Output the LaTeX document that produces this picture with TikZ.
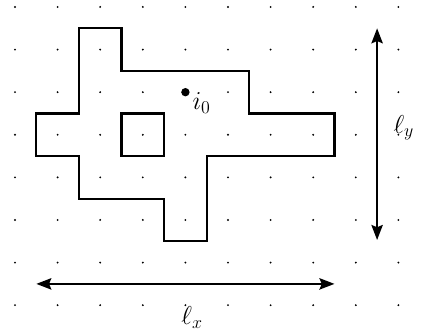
\documentclass[tikz,border=0pt]{standalone}
\usetikzlibrary{arrows.meta}
\begin{document}
\begin{tikzpicture}[x=1cm,y=1cm,
  griddot/.style={fill=black,draw=none},
  bigdot/.style={circle,fill=black,inner sep=0pt,minimum size=5.6pt},
  outline/.style={line width=1.5pt,line join=miter},
  measure/.style={line width=1.6pt,{Stealth[length=10pt,width=7.5pt,inset=1.5pt]}-{Stealth[length=10pt,width=7.5pt,inset=1.5pt]}},
  lbl/.style={inner sep=0pt,anchor=base west,font=\LARGE}]
\useasboundingbox (-0.352,0.164) rectangle (9.648,-7.723);
% dot grid
\foreach \i in {0,...,9}{
  \foreach \j in {0,...,7}{
    \fill[griddot] (\i,-\j) circle (0.7pt);
  }
}
% lattice region
\draw[outline] (1.5,-0.5) -- (2.5,-0.5) -- (2.5,-1.5) -- (5.5,-1.5) -- (5.5,-2.5)
  -- (7.5,-2.5) -- (7.5,-3.5) -- (4.5,-3.5) -- (4.5,-5.5) -- (3.5,-5.5)
  -- (3.5,-4.5) -- (1.5,-4.5) -- (1.5,-3.5) -- (0.5,-3.5) -- (0.5,-2.5)
  -- (1.5,-2.5) -- cycle;
\draw[outline] (2.5,-2.5) rectangle (3.5,-3.5);
% marked site
\node[bigdot] (i0) at (4,-2) {};
\node[lbl] (i0lbl) at (4.16,-2.4) {$i_0$};
% extents
\coordinate (ytop) at (8.5,-0.5);
\coordinate (ybot) at (8.5,-5.47);
\draw[measure] (ytop) -- (ybot);
\node[lbl] (lylbl) at (8.88,-2.96) {$\ell_y$};
\coordinate (xl) at (0.5,-6.5);
\coordinate (xr) at (7.5,-6.5);
\draw[measure] (xl) -- (xr);
\node[lbl] (lxlbl) at (3.9,-7.46) {$\ell_x$};
\end{tikzpicture}
\end{document}
